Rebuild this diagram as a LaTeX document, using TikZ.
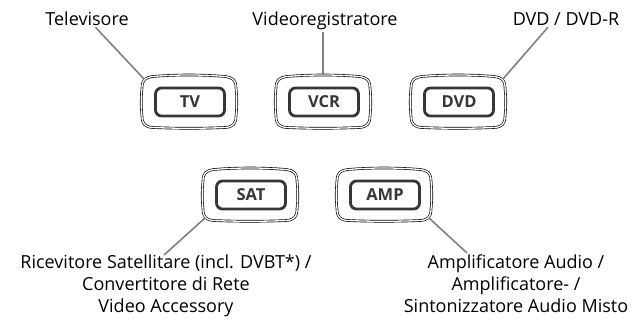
\documentclass[tikz,border=0pt]{standalone}
\usepackage{fontspec}
\setmainfont{Open Sans}
\usetikzlibrary{calc}
\definecolor{keyink}{HTML}{363636}
\definecolor{leadgray}{HTML}{808080}

\begin{document}
\begin{tikzpicture}[x=1pt, y=-1pt,
    keyrim/.style={minimum width=94pt, minimum height=53pt, inner sep=0pt},
    keycap/.style={draw=keyink, line width=2.8pt, rounded corners=6pt, minimum width=69pt, minimum height=28pt, inner sep=0pt, text=keyink, font=\fontsize{16.5}{16.5}\selectfont\bfseries},
    rimline/.style={draw=black, double, double distance=1.3pt, line width=0.65pt},
    lead/.style={draw=leadgray, line width=1.6pt},
    caption/.style={font=\fontsize{18}{22}\selectfont, align=center, inner sep=2pt}
]
    \useasboundingbox (0,0) rectangle (644,325);

    % keys
    \node[keyrim] (tv)  at (189,102) {};
    \node[keyrim] (vcr) at (323,102) {};
    \node[keyrim] (dvd) at (458,102) {};
    \node[keyrim] (sat) at (250,195) {};
    \node[keyrim] (amp) at (384,195) {};

    \foreach \k/\txt in {tv/TV, vcr/VCR, dvd/DVD, sat/SAT, amp/AMP}{
        \node[keycap] (\k cap) at ($(\k.center)+(1,0)$) {\txt};
        \draw[rimline, shift={(\k.center)}]
            (-47,-14) .. controls (-47,-22) and (-44,-24.5) .. (-36,-25.5)
            .. controls (-14,-27.5) and (14,-27.5) .. (36,-25.5)
            .. controls (44,-24.5) and (47,-22) .. (47,-14)
            .. controls (48,-5) and (48,5) .. (47,14)
            .. controls (47,22) and (44,25) .. (36,25.5)
            .. controls (14,26.5) and (-14,26.5) .. (-36,25.5)
            .. controls (-44,25) and (-47,22) .. (-47,14)
            .. controls (-48,5) and (-48,-5) .. (-47,-14) -- cycle;
    }

    % labels
    \node[caption, anchor=base] (televisore) at (87,25) {Televisore};
    \node[caption, anchor=base] (videoreg) at (325,25) {Videoregistratore};
    \node[caption, anchor=base] (dvdlabel) at (566,25) {DVD / DVD-R};
    \node[caption, anchor=north] (satlabel) at (166,253) {Ricevitore Satellitare (incl. DVBT*) /\\Convertitore di Rete\\Video Accessory};
    \node[caption, anchor=north] (amplabel) at (516,253) {Amplificatore Audio /\\Amplificatore- /\\Sintonizzatore Audio Misto};

    \draw[lead] (televisore) -- ($(tv.north west)+(2.5,4)$);
    \draw[lead] (videoreg.south -| vcr.north) -- (vcr.north);
    \draw[lead] ($(dvdlabel.south)+(-18,0)$) -- ($(dvd.north east)+(-2.5,4)$);
    \draw[lead] ($(satlabel.north)+(-2,2)$) -- ($(sat.south west)+(2.5,-4)$);
    \draw[lead] ($(amplabel.north)+(-49,0)$) -- ($(amp.south east)+(-2.5,-4)$);
\end{tikzpicture}
\end{document}
